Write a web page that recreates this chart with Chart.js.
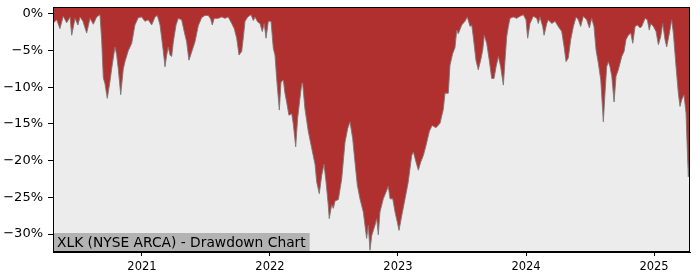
<!DOCTYPE html>
<html>
<head>
<meta charset="utf-8">
<script src="https://cdn.jsdelivr.net/npm/chart.js@4.4.1/dist/chart.umd.min.js"></script>
<style>
  html, body { margin: 0; padding: 0; background: #fff; }
  #wrap { width: 700px; height: 280px; }
</style>
</head>
<body>
<div id="wrap"><canvas id="ddChart"></canvas></div>
<script>
// Drawdown data (decimal year, % below previous high)
var dates = [
  2020.309, 2020.334, 2020.359, 2020.385, 2020.412, 2020.438, 2020.451, 2020.477, 2020.500, 2020.516,
  2020.539, 2020.568, 2020.594, 2020.620, 2020.646, 2020.672, 2020.685, 2020.698, 2020.711, 2020.729,
  2020.750, 2020.763, 2020.789, 2020.802, 2020.815, 2020.834, 2020.854, 2020.867, 2020.893, 2020.920,
  2020.945, 2020.971, 2020.998, 2021.023, 2021.049, 2021.076, 2021.102, 2021.120, 2021.141, 2021.154,
  2021.166, 2021.180, 2021.193, 2021.205, 2021.219, 2021.232, 2021.245, 2021.266, 2021.284, 2021.310,
  2021.330, 2021.349, 2021.367, 2021.388, 2021.414, 2021.440, 2021.466, 2021.492, 2021.518, 2021.537,
  2021.549, 2021.565, 2021.596, 2021.623, 2021.648, 2021.674, 2021.701, 2021.721, 2021.740, 2021.758,
  2021.779, 2021.791, 2021.805, 2021.826, 2021.852, 2021.870, 2021.883, 2021.904, 2021.922, 2021.940,
  2021.955, 2021.969, 2021.987, 2022.008, 2022.026, 2022.039, 2022.052, 2022.073, 2022.086, 2022.104,
  2022.117, 2022.130, 2022.148, 2022.170, 2022.182, 2022.201, 2022.216, 2022.234, 2022.248, 2022.255,
  2022.273, 2022.299, 2022.326, 2022.352, 2022.365, 2022.385, 2022.404, 2022.422, 2022.438, 2022.455,
  2022.463, 2022.482, 2022.495, 2022.508, 2022.534, 2022.560, 2022.586, 2022.607, 2022.625, 2022.646,
  2022.664, 2022.682, 2022.703, 2022.729, 2022.742, 2022.755, 2022.768, 2022.781, 2022.795, 2022.820,
  2022.834, 2022.846, 2022.859, 2022.885, 2022.906, 2022.924, 2022.938, 2022.959, 2022.977, 2022.995,
  2023.008, 2023.029, 2023.055, 2023.080, 2023.107, 2023.120, 2023.141, 2023.159, 2023.177, 2023.198,
  2023.219, 2023.245, 2023.266, 2023.297, 2023.328, 2023.354, 2023.367, 2023.393, 2023.406, 2023.427,
  2023.445, 2023.459, 2023.471, 2023.498, 2023.523, 2023.541, 2023.563, 2023.576, 2023.588, 2023.609,
  2023.627, 2023.646, 2023.662, 2023.674, 2023.693, 2023.713, 2023.732, 2023.750, 2023.766, 2023.784,
  2023.802, 2023.823, 2023.836, 2023.849, 2023.862, 2023.875, 2023.901, 2023.927, 2023.953, 2023.979,
  2024.000, 2024.013, 2024.031, 2024.057, 2024.084, 2024.096, 2024.109, 2024.130, 2024.141, 2024.162,
  2024.174, 2024.201, 2024.227, 2024.252, 2024.279, 2024.297, 2024.313, 2024.330, 2024.349, 2024.370,
  2024.391, 2024.409, 2024.427, 2024.448, 2024.474, 2024.495, 2024.513, 2024.531, 2024.547, 2024.565,
  2024.584, 2024.604, 2024.617, 2024.630, 2024.643, 2024.656, 2024.670, 2024.688, 2024.703, 2024.721,
  2024.748, 2024.766, 2024.781, 2024.799, 2024.818, 2024.834, 2024.852, 2024.870, 2024.891, 2024.904,
  2024.930, 2024.948, 2024.963, 2024.974, 2024.995, 2025.016, 2025.034, 2025.052, 2025.068, 2025.086,
  2025.099, 2025.120, 2025.138, 2025.151, 2025.172, 2025.190, 2025.203, 2025.216, 2025.234, 2025.250,
  2025.260, 2025.268, 2025.276
];
var drawdown = [
  -1.2, -0.8, -2.0, -0.3, -1.2, -0.4, -2.9, -0.6, -1.5, -0.4,
  -1.0, -2.6, -0.6, -1.4, -0.4, -0.1, -3.5, -8.7, -9.5, -11.5,
  -9.2, -7.5, -4.5, -5.5, -7.5, -11.0, -7.5, -6.5, -5.0, -4.0,
  -1.5, -0.5, -0.4, -1.0, -0.8, -1.5, -0.4, -0.2, -1.5, -3.3,
  -5.0, -7.2, -5.6, -4.5, -5.6, -5.8, -3.8, -1.5, -0.6, -0.8,
  -2.4, -3.8, -6.3, -5.2, -3.8, -1.6, -0.5, -0.2, -0.2, -0.7,
  -1.5, -0.6, -0.6, -0.4, -0.6, -0.4, -1.3, -2.0, -3.3, -5.6,
  -5.1, -3.3, -1.0, -0.4, -0.1, -0.9, -0.4, -1.1, -1.3, -2.4,
  -1.3, -3.3, -1.0, -1.0, -4.7, -5.6, -8.8, -13.1, -9.3, -9.0,
  -10.8, -12.0, -13.8, -13.6, -15.0, -18.1, -14.2, -11.5, -9.5, -9.4,
  -12.9, -16.0, -18.3, -20.5, -22.9, -24.5, -22.0, -20.5, -22.9, -26.0,
  -27.9, -26.0, -26.5, -25.5, -25.3, -22.5, -17.5, -15.6, -14.7, -17.0,
  -20.2, -23.3, -25.2, -27.0, -28.8, -30.6, -28.8, -32.2, -30.2, -28.8,
  -27.9, -30.1, -27.0, -25.2, -24.3, -23.5, -25.2, -25.2, -27.0, -28.4,
  -29.5, -27.5, -25.2, -22.9, -19.3, -18.8, -20.2, -21.3, -20.2, -19.3,
  -17.9, -16.0, -15.2, -15.5, -14.9, -13.0, -10.8, -10.8, -7.0, -5.4,
  -4.6, -2.2, -2.7, -1.5, -1.0, -0.4, -1.7, -1.5, -3.1, -6.3,
  -7.6, -6.3, -4.9, -2.9, -4.0, -6.3, -8.8, -8.8, -7.2, -5.8,
  -7.2, -9.7, -6.3, -3.1, -1.7, -0.6, -0.4, -0.6, -0.3, -0.1,
  -0.8, -3.3, -1.3, -0.3, -0.6, -1.3, -0.4, -1.7, -2.9, -1.3,
  -0.8, -1.3, -1.0, -1.7, -2.4, -4.4, -6.5, -6.0, -3.5, -1.7,
  -0.4, -0.8, -1.7, -0.3, -0.8, -1.9, -0.6, -1.7, -4.9, -6.7,
  -9.0, -14.7, -10.8, -7.2, -6.5, -7.2, -8.5, -12.0, -8.5, -7.6,
  -5.8, -5.1, -3.5, -2.9, -2.6, -4.0, -1.7, -1.5, -1.9, -1.7,
  -0.6, -0.8, -2.2, -1.3, -1.7, -2.4, -4.2, -3.1, -1.3, -3.5,
  -4.5, -2.6, -0.8, -2.6, -7.2, -10.8, -12.6, -11.7, -11.0, -13.5,
  -18.5, -22.2, -20.0
];
var yearTicks = [2021, 2022, 2023, 2024, 2025];
var pctTicks = [0, -5, -10, -15, -20, -25, -30];
var chartTitle = 'XLK (NYSE ARCA) - Drawdown Chart';

var points = dates.map(function (d, i) { return { x: d, y: drawdown[i] }; });

// black frame round the plot plus the grey caption box bottom left
var framePlugin = {
    id: 'frame',
    beforeDatasetsDraw: function (chart) {
        var a = chart.chartArea, c = chart.ctx;
        c.save();
        c.fillStyle = '#ececec';
        c.fillRect(a.left, a.top, a.right - a.left, a.bottom - a.top);
        c.restore();
    },
    afterDatasetsDraw: function (chart) {
        var a = chart.chartArea, c = chart.ctx;
        c.save();
        c.font = '13.8px "DejaVu Sans"';
        var w = c.measureText(chartTitle).width;
        c.fillStyle = '#b3b3b3';
        c.fillRect(a.left, a.bottom - 19, w + 8, 19);
        c.fillStyle = '#000';
        c.textBaseline = 'middle';
        c.fillText(chartTitle, a.left + 4, a.bottom - 9);
        c.strokeStyle = '#000';
        c.lineWidth = 1;
        c.strokeRect(Math.round(a.left) + 0.5, Math.round(a.top) + 0.5,
                     Math.round(a.right - a.left) - 1, Math.round(a.bottom - a.top) - 1);
        c.restore();
    }
};

var ctx = document.getElementById('ddChart').getContext('2d');
var ddChart = new Chart(ctx, {
    type: 'line',
    data: {
        datasets: [{
            label: 'Drawdown',
            data: points,
            borderColor: 'rgba(120,120,120,0.9)',
            borderWidth: 1,
            backgroundColor: '#b03030',
            fill: 'end',
            pointRadius: 0,
            tension: 0
        }]
    },
    options: {
        responsive: true,
        maintainAspectRatio: false,
        animation: false,
        layout: { padding: { left: 0, right: 10, top: 7, bottom: 0 } },
        plugins: { legend: { display: false }, tooltip: { enabled: false } },
        scales: {
            x: {
                type: 'linear',
                min: 2020.305,
                max: 2025.281,
                afterBuildTicks: function (s) { s.ticks = yearTicks.map(function (v) { return { value: v }; }); },
                afterFit: function (s) { s.height = 28; s.paddingLeft = 0; s.paddingRight = 0; },
                grid: { drawOnChartArea: false, drawTicks: true, tickLength: 4, color: '#000' },
                border: { display: true, color: '#000' },
                ticks: {
                    color: '#000',
                    padding: 4,
                    maxRotation: 0,
                    font: { family: 'DejaVu Sans', size: 11.5 },
                    callback: function (v) { return String(v); }
                }
            },
            y: {
                min: -32.45,
                max: 0.95,
                afterBuildTicks: function (s) { s.ticks = pctTicks.map(function (v) { return { value: v }; }); },
                afterFit: function (s) { s.width = 53; s.paddingTop = 0; s.paddingBottom = 0; },
                grid: { drawOnChartArea: false, drawTicks: true, tickLength: 5, color: '#000' },
                border: { display: true, color: '#000' },
                ticks: {
                    color: '#000',
                    padding: 5,
                    font: { family: 'DejaVu Sans', size: 13 },
                    callback: function (v) { return (v < 0 ? '\u2212' + (-v) : v) + '%'; }
                }
            }
        }
    },
    plugins: [framePlugin]
});
</script>
</body>
</html>
